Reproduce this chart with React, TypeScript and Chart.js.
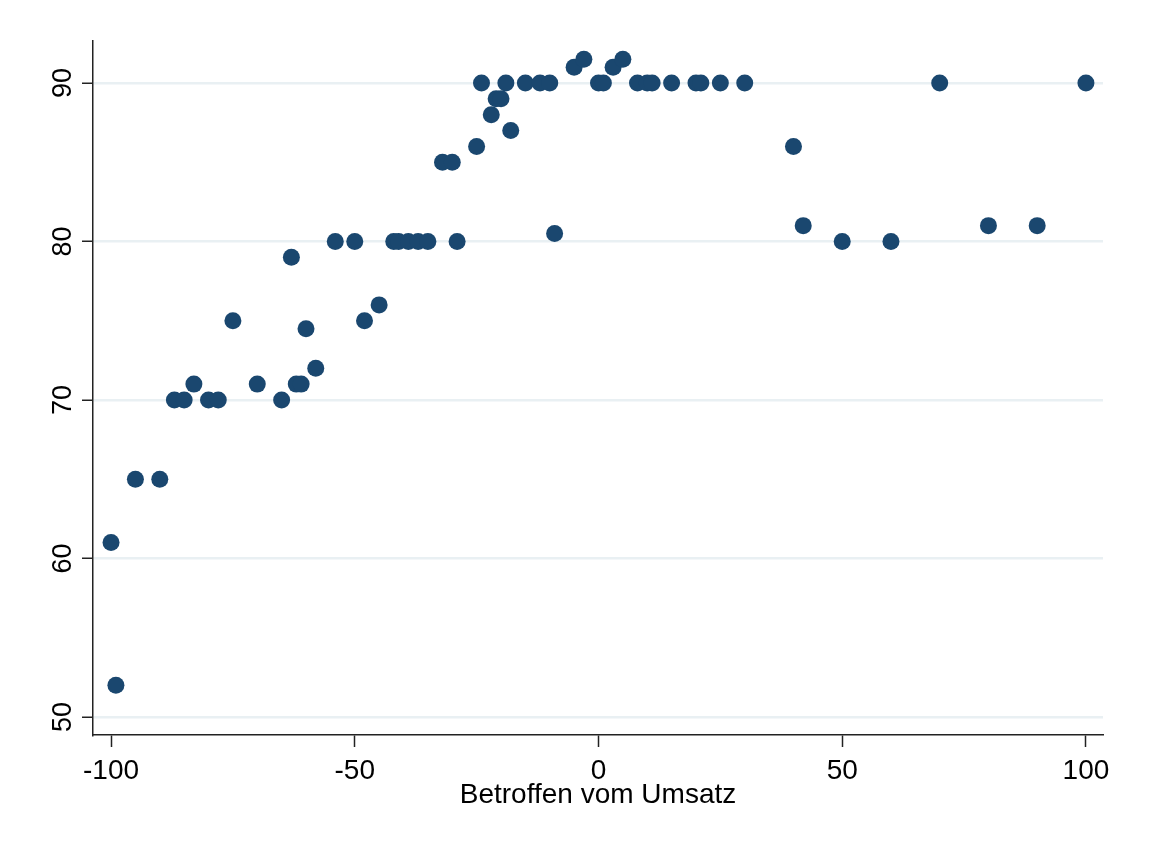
import React, { useEffect, useRef } from "react";
import { Chart, registerables } from "chart.js";

Chart.register(...registerables);

// Data (x = Betroffen vom Umsatz, y = value)
const xValues: number[] = [
  -100, -99, -95, -90, -87, -85, -83, -80, -78, -75, -70, -65, -63, -62, -61, -60,
  -58, -54, -50, -48, -45, -42, -41, -39, -37, -35, -32, -30, -29, -25, -24, -22,
  -21, -20, -19, -18, -15, -12, -10, -9, -5, -3, 0, 1, 3, 5, 8, 10, 11, 15, 20, 21,
  25, 30, 40, 42, 50, 60, 70, 80, 90, 100,
];
const yValues: number[] = [
  61, 52, 65, 65, 70, 70, 71, 70, 70, 75, 71, 70, 79, 71, 71, 74.5,
  72, 80, 80, 75, 76, 80, 80, 80, 80, 80, 85, 85, 80, 86, 90, 88,
  89, 89, 90, 87, 90, 90, 90, 80.5, 91, 91.5, 90, 90, 91, 91.5, 90, 90, 90, 90, 90, 90,
  90, 90, 86, 81, 80, 80, 90, 81, 81, 90,
];
const xTicks: number[] = [-100, -50, 0, 50, 100];
const yTicks: number[] = [50, 60, 70, 80, 90];
const xTitle = "Betroffen vom Umsatz";

const FONT = "'Liberation Sans', Arial, sans-serif";

export default function App() {
  const ref = useRef<HTMLCanvasElement | null>(null);

  useEffect(() => {
    if (!ref.current) return;
    const points = xValues.map((x, i) => ({ x, y: yValues[i] }));

    const yLabelPlugin = {
      id: "yLabels",
      afterDraw(chart: any) {
        const ctx = chart.ctx;
        const ys = chart.scales.y;
        ctx.save();
        ctx.fillStyle = "#000";
        ctx.font = `27px ${FONT}`;
        ctx.textAlign = "center";
        ctx.textBaseline = "alphabetic";
        yTicks.forEach((v) => {
          const py = ys.getPixelForValue(v);
          ctx.save();
          ctx.translate(71, py);
          ctx.rotate(-Math.PI / 2);
          ctx.fillText(String(v), 0, 0);
          ctx.restore();
        });
        ctx.restore();
      },
    };

    const chart = new Chart(ref.current, {
      type: "scatter",
      data: {
        datasets: [
          {
            data: points,
            backgroundColor: "#1a476f",
            borderWidth: 0,
            pointRadius: 8.5,
            pointHoverRadius: 8.5,
          },
        ],
      },
      options: {
        responsive: false,
        animation: false,
        layout: { padding: { top: 41, right: 50, left: 0, bottom: 0 } },
        plugins: { legend: { display: false }, tooltip: { enabled: false } },
        scales: {
          x: {
            type: "linear",
            min: -103.7,
            max: 103.5,
            afterBuildTicks: (s: any) => {
              s.ticks = xTicks.map((v) => ({ value: v }));
            },
            afterFit: (s: any) => {
              s.height = 106;
            },
            border: { display: true, color: "#222", width: 1.5 },
            grid: {
              drawOnChartArea: false,
              drawTicks: true,
              tickLength: 12,
              tickColor: "#222",
              tickWidth: 1.5,
            },
            ticks: {
              color: "#000",
              font: { family: FONT, size: 28 },
              padding: 7,
              maxRotation: 0,
              minRotation: 0,
              callback: (v: any) => String(v),
            },
            title: {
              display: true,
              text: xTitle,
              color: "#000",
              font: { family: FONT, size: 28 },
              padding: { top: 0, bottom: 29 },
            },
          },
          y: {
            type: "linear",
            min: 48.86,
            max: 92.65,
            afterBuildTicks: (s: any) => {
              s.ticks = yTicks.map((v) => ({ value: v }));
            },
            afterFit: (s: any) => {
              s.width = 93;
            },
            border: { display: true, color: "#222", width: 1.5 },
            grid: {
              drawOnChartArea: true,
              color: "#e9f0f3",
              lineWidth: 2.5,
              drawTicks: true,
              tickLength: 11,
              tickColor: "#222",
              tickWidth: 1.5,
            },
            ticks: { display: false },
          },
        },
      },
      plugins: [yLabelPlugin],
    } as any);

    return () => chart.destroy();
  }, []);

  return (
    <div style={{ position: "fixed", left: 0, top: 0, width: 1153, height: 841, background: "#fff" }}>
      <canvas ref={ref} width={1153} height={841} style={{ display: "block" }} />
    </div>
  );
}
